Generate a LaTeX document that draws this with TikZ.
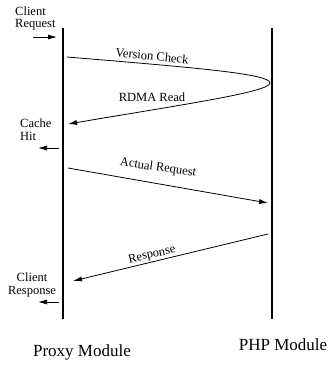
\documentclass[tikz,border=0pt]{standalone}
\usepackage{fontspec}
\setmainfont{Liberation Serif}
\usetikzlibrary{arrows.meta}
\begin{document}
\begin{tikzpicture}[x=1pt,y=-1pt,
  life/.style={line width=1.6pt},
  msg/.style={line width=0.8pt,-{Latex[length=9pt,width=5pt]}},
  small/.style={font=\fontsize{12.5}{12.5}\selectfont,inner sep=0pt},
  big/.style={font=\fontsize{17}{17}\selectfont,inner sep=0pt}]
\useasboundingbox (0,0) rectangle (328,374);
% lifelines
\coordinate (pt) at (63,28); \coordinate (pb) at (63,319);
\coordinate (ht) at (272,28); \coordinate (hb) at (272,319);
\draw[life] (pt) -- (pb);
\draw[life] (ht) -- (hb);
\node[big] (proxy) at (82,352) {Proxy Module};
\node[big] (php) at (283,345) {PHP Module};
% client side labels and arrows
\node[small,anchor=north west,align=left] (creq) at (15,6.5) {Client\\Request};
\coordinate (cr1) at (33,37); \coordinate (cr2) at (57,37);
\draw[msg] (cr1) -- (cr2);
\node[small,anchor=north west,align=left] (cache) at (20,119) {Cache\\Hit};
\coordinate (ch1) at (59,148); \coordinate (ch2) at (38,148);
\draw[msg] (ch1) -- (ch2);
\node[small,anchor=north,align=center] (cresp) at (32,273) {Client\\Response};
\coordinate (rs1) at (59,302); \coordinate (rs2) at (38,302);
\draw[msg] (rs1) -- (rs2);
% version check / rdma read
\coordinate (vc) at (67,57); \coordinate (tip) at (270,83); \coordinate (rd) at (68,124);
\draw[msg] (vc) .. controls (200,68) and (270,74) .. (tip) .. controls (270,92) and (180,105) .. (rd);
\node[small,rotate=-6] (vcl) at (152,56) {Version Check};
\node[small] (rdl) at (152,97) {RDMA Read};
% actual request
\coordinate (ar1) at (68,168); \coordinate (ar2) at (268,203);
\draw[msg] (ar1) -- (ar2);
\node[small,rotate=-8] (arl) at (158,168) {Actual Request};
% response
\coordinate (re1) at (268,234); \coordinate (re2) at (73,281);
\draw[msg] (re1) -- (re2);
\node[small,rotate=13] (rel) at (152,255) {Response};
\end{tikzpicture}
\end{document}
